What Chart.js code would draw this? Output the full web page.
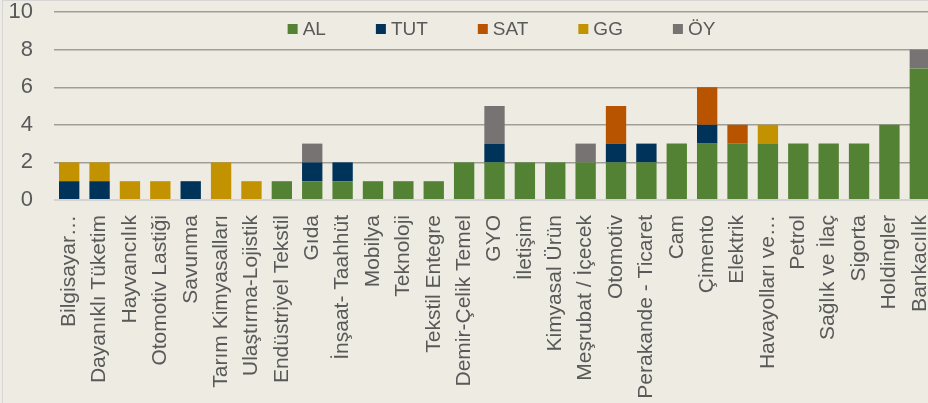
<!DOCTYPE html>
<html>

<head>
    <meta charset="utf-8">
    <script src="https://cdn.jsdelivr.net/npm/chart.js@4.4.1/dist/chart.umd.min.js"></script>
    <style>
        body { margin: 0; background: #eeece2; }
        #wrap { position: absolute; left: 0; top: 0; width: 928px; height: 403px; overflow: hidden; }
        #box { position: absolute; left: 0; top: 0; width: 940px; height: 403px; }
        #frame { position: absolute; left: 2px; top: 0; width: 940px; height: 403px;
                 border-left: 1px solid #d6d6d6; border-top: 1px solid #d6d6d6; pointer-events: none; }
    </style>
</head>

<body>

    <div id="wrap">
        <div id="box"><canvas id="myChart"></canvas></div>
        <div id="frame"></div>
    </div>

    <script>
        var sectors = ["Bilgisayar…", "Dayanıklı Tüketim", "Hayvancılık", "Otomotiv Lastiği", "Savunma",
            "Tarım Kimyasalları", "Ulaştırma-Lojistik", "Endüstriyel Tekstil", "Gıda", "İnşaat- Taahhüt",
            "Mobilya", "Teknoloji", "Tekstil Entegre", "Demir-Çelik Temel", "GYO", "İletişim",
            "Kimyasal Ürün", "Meşrubat / İçecek", "Otomotiv", "Perakande - Ticaret", "Cam", "Çimento",
            "Elektrik", "Havayolları ve…", "Petrol", "Sağlık ve İlaç", "Sigorta", "Holdingler", "Bankacılık"];

        var alValues  = [0, 0, 0, 0, 0, 0, 0, 1, 1, 1, 1, 1, 1, 2, 2, 2, 2, 2, 2, 2, 3, 3, 3, 3, 3, 3, 3, 4, 7];
        var tutValues = [1, 1, 0, 0, 1, 0, 0, 0, 1, 1, 0, 0, 0, 0, 1, 0, 0, 0, 1, 1, 0, 1, 0, 0, 0, 0, 0, 0, 0];
        var satValues = [0, 0, 0, 0, 0, 0, 0, 0, 0, 0, 0, 0, 0, 0, 0, 0, 0, 0, 2, 0, 0, 2, 1, 0, 0, 0, 0, 0, 0];
        var ggValues  = [1, 1, 1, 1, 0, 2, 1, 0, 0, 0, 0, 0, 0, 0, 0, 0, 0, 0, 0, 0, 0, 0, 0, 1, 0, 0, 0, 0, 0];
        var oyValues  = [0, 0, 0, 0, 0, 0, 0, 0, 1, 0, 0, 0, 0, 0, 2, 0, 0, 1, 0, 0, 0, 0, 0, 0, 0, 0, 0, 0, 1];

        var yTicks = [0, 2, 4, 6, 8, 10];

        var textColor = "#595959";
        var fontName = '"Liberation Sans", Arial, sans-serif';

        // legend drawn inside the plot, between the 10 and 8 gridlines
        const insideLegend = {
            id: "insideLegend",
            afterDatasetsDraw(chart) {
                const ctx = chart.ctx;
                const area = chart.chartArea;
                const box = 10, space = 5, gap = 50;
                ctx.save();
                ctx.font = "19px " + fontName;
                ctx.textBaseline = "middle";
                let items = chart.data.datasets.map(function (d) {
                    return { text: d.label, color: d.backgroundColor, w: box + space + ctx.measureText(d.label).width };
                });
                let total = items.reduce(function (s, it) { return s + it.w; }, 0) + gap * (items.length - 1);
                let x = (area.left + area.right) / 2 - total / 2 + 7;
                let y = area.top + 17;
                for (let it of items) {
                    ctx.fillStyle = it.color;
                    ctx.fillRect(x, y - box / 2, box, box);
                    ctx.fillStyle = textColor;
                    ctx.fillText(it.text, x + box + space, y + 1);
                    x += it.w + gap;
                }
                ctx.restore();
            }
        };

        function makeSet(name, values, color) {
            return {
                label: name,
                data: values,
                backgroundColor: color,
                borderWidth: 0,
                barPercentage: 0.67,
                categoryPercentage: 1
            };
        }

        new Chart("myChart", {
            type: "bar",
            data: {
                labels: sectors,
                datasets: [
                    makeSet("AL", alValues, "#548235"),
                    makeSet("TUT", tutValues, "#003359"),
                    makeSet("SAT", satValues, "#b85400"),
                    makeSet("GG", ggValues, "#c29200"),
                    makeSet("ÖY", oyValues, "#777372")
                ]
            },
            options: {
                responsive: true,
                maintainAspectRatio: false,
                animation: false,
                layout: { padding: { top: 12, right: 5, bottom: 0, left: 0 } },
                plugins: {
                    legend: { display: false },
                    tooltip: { enabled: false }
                },
                scales: {
                    x: {
                        stacked: true,
                        grid: { display: false, drawTicks: false },
                        border: { display: false },
                        ticks: {
                            color: textColor,
                            font: { family: fontName, size: 21 },
                            minRotation: 90,
                            maxRotation: 90,
                            autoSkip: false,
                            padding: 15
                        },
                        afterFit: function (scale) {
                            scale.height = 203;
                            scale.paddingLeft = 0;
                            scale.paddingRight = 0;
                        }
                    },
                    y: {
                        stacked: true,
                        min: 0,
                        max: 10,
                        afterBuildTicks: function (scale) {
                            scale.ticks = yTicks.map(function (v) { return { value: v }; });
                        },
                        grid: {
                            drawTicks: false,
                            color: function (c) { return c.tick && c.tick.value === 0 ? "#d3d3d3" : "#a19e98"; },
                            lineWidth: function (c) { return c.tick && c.tick.value === 0 ? 2 : 1.4; }
                        },
                        border: { display: false },
                        ticks: {
                            color: textColor,
                            font: { family: fontName, size: 22, lineHeight: 1 },
                            padding: 21
                        },
                        afterFit: function (scale) {
                            scale.width = 54;
                            scale.paddingTop = 0;
                            scale.paddingBottom = 0;
                        }
                    }
                }
            },
            plugins: [insideLegend]
        });
    </script>
</body>

</html>
